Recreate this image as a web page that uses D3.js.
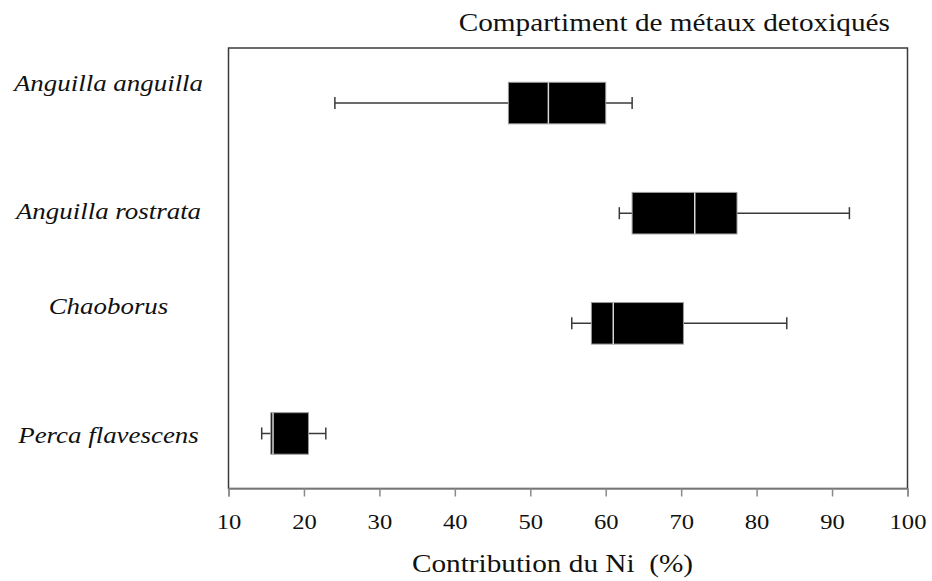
<!DOCTYPE html>
<html>
<head>
<meta charset="utf-8">
<script src="https://cdn.jsdelivr.net/npm/d3@7"></script>
<style>
  html, body { margin: 0; padding: 0; background: #fff; }
  svg { display: block; }
  text { font-family: "Liberation Serif", "Times New Roman", serif; fill: #111; }
</style>
</head>
<body>
<svg id="chart" width="932" height="581"></svg>
<script>
// Species (top to bottom)
const species = ["Anguilla anguilla", "Anguilla rostrata", "Chaoborus", "Perca flavescens"];
// Five-number summaries of the Ni contribution (%)
const whiskerLow  = [24.1, 61.8, 55.5, 14.4];
const quartile1   = [47.1, 63.5, 58.1, 15.6];
const medians     = [52.4, 71.8, 61.0, 15.9];
const quartile3   = [60.0, 77.4, 70.3, 20.6];
const whiskerHigh = [63.5, 92.3, 84.0, 22.9];
// Axis ticks
const xTicks = [10, 20, 30, 40, 50, 60, 70, 80, 90, 100];

const title = "Compartiment de métaux detoxiqués";
const xTitle = "Contribution du Ni\u00a0\u00a0(%)";

// Layout
const plot = { left: 228.5, right: 907.5, top: 48, bottom: 488.5 };
const labelX = 108.5;
const labelShift = [-12.5, 6, -9.5, 9.5];   // baseline offsets of the species names
const stretch = 1.17;                        // horizontal widening of the serif type

const svg = d3.select("#chart");

const x = d3.scaleLinear().domain([10, 100]).range([plot.left, plot.right]);
const y = d3.scaleBand().domain(species)
  .range([plot.top, plot.bottom])
  .paddingInner(0.623).paddingOuter(0.3115);

function widen(sel) {
  sel.each(function () {
    const w = this.getComputedTextLength();
    d3.select(this).attr("textLength", w * stretch).attr("lengthAdjust", "spacingAndGlyphs");
  });
}

// Frame
svg.append("rect")
  .attr("x", plot.left).attr("y", plot.top)
  .attr("width", plot.right - plot.left).attr("height", plot.bottom - plot.top)
  .attr("fill", "none").attr("stroke", "#3a3a3a").attr("stroke-width", 1.5);

// Bottom axis
const xAxis = d3.axisBottom(x).tickValues(xTicks).tickSize(8).tickPadding(18).tickFormat(d3.format("d"));
const gx = svg.append("g").attr("transform", `translate(0,${plot.bottom})`).call(xAxis);
gx.select(".domain").attr("stroke", "#8a8a8a").attr("stroke-width", 1.5);
gx.selectAll(".tick line").attr("stroke", "#8a8a8a").attr("stroke-width", 1.5);
gx.selectAll(".tick text")
  .attr("font-family", "Liberation Serif, Times New Roman, serif")
  .attr("font-size", 21).attr("fill", "#111").attr("dy", "0.71em")
  .call(widen);

const rows = species.map((s, i) => ({
  name: s, lo: whiskerLow[i], q1: quartile1[i], med: medians[i], q3: quartile3[i], hi: whiskerHigh[i], i
}));

const bw = y.bandwidth();
const g = svg.append("g").selectAll("g").data(rows).join("g");

// Whiskers
g.append("line")
  .attr("x1", d => x(d.lo)).attr("x2", d => x(d.hi))
  .attr("y1", d => y(d.name) + bw / 2).attr("y2", d => y(d.name) + bw / 2)
  .attr("stroke", "#3a3a3a").attr("stroke-width", 1.5);
g.append("line")
  .attr("x1", d => x(d.lo)).attr("x2", d => x(d.lo))
  .attr("y1", d => y(d.name) + bw / 2 - 6).attr("y2", d => y(d.name) + bw / 2 + 6)
  .attr("stroke", "#3a3a3a").attr("stroke-width", 1.5);
g.append("line")
  .attr("x1", d => x(d.hi)).attr("x2", d => x(d.hi))
  .attr("y1", d => y(d.name) + bw / 2 - 6).attr("y2", d => y(d.name) + bw / 2 + 6)
  .attr("stroke", "#3a3a3a").attr("stroke-width", 1.5);

// Boxes
g.append("rect")
  .attr("x", d => x(d.q1)).attr("width", d => x(d.q3) - x(d.q1))
  .attr("y", d => y(d.name)).attr("height", bw)
  .attr("fill", "#000").attr("stroke", "#9a9a9a").attr("stroke-width", 1);

// Medians
g.append("line")
  .attr("x1", d => x(d.med)).attr("x2", d => x(d.med))
  .attr("y1", d => y(d.name)).attr("y2", d => y(d.name) + bw)
  .attr("stroke", "#d8d8d8").attr("stroke-width", 1.5);

// Species names
svg.append("g").selectAll("text").data(rows).join("text")
  .attr("x", labelX)
  .attr("y", d => y(d.name) + bw / 2 + labelShift[d.i])
  .attr("text-anchor", "middle")
  .attr("font-style", "italic")
  .attr("font-size", 23)
  .text(d => d.name)
  .call(widen);

// Title
svg.append("text")
  .attr("x", 890).attr("y", 31)
  .attr("text-anchor", "end")
  .attr("font-size", 25)
  .text(title)
  .call(widen);

// Axis title
svg.append("text")
  .attr("x", 552.5).attr("y", 572)
  .attr("text-anchor", "middle")
  .attr("font-size", 25)
  .text(xTitle)
  .call(widen);
</script>
</body>
</html>
